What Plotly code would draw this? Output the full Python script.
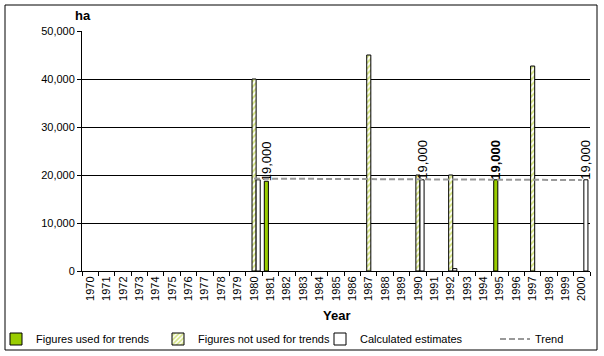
import plotly.graph_objects as go

years = [str(y) for y in range(1970, 2001)]

# Figures used for trends (green)
used_years = ["1981", "1995"]
used_values = [18700, 19000]
used_labels = ["19,000", "<b>19,000</b>"]

# Figures not used for trends (hatched)
notused_years = ["1980", "1987", "1990", "1992", "1997"]
notused_values = [40000, 45000, 20000, 20000, 42700]

# Calculated estimates (white)
calc_years = ["1980", "1990", "1992", "2000"]
calc_values = [19000, 19000, 500, 19000]
calc_labels = ["", "19,000", "", "19,000"]

# Trend (dashed)
trend_years = ["1980", "2000"]
trend_values = [19250, 18950]

FONT = "Liberation Sans, Arial, sans-serif"
GREEN = "#99CC00"

fig = go.Figure()
fig.add_trace(go.Bar(
    x=used_years, y=used_values, name="Figures used for trends",
    marker=dict(color=GREEN, line=dict(color="black", width=1)),
    text=used_labels, textposition="outside", textangle=-90,
    textfont=dict(family=FONT, size=13, color="black"),
    constraintext="none", cliponaxis=False,
))
fig.add_trace(go.Bar(
    x=notused_years, y=notused_values, name="Figures not used for trends",
    marker=dict(color="white", line=dict(color="black", width=1),
                pattern=dict(shape="/", fgcolor="#A8C800", bgcolor="white",
                             size=4, solidity=0.5)),
))
fig.add_trace(go.Bar(
    x=calc_years, y=calc_values, name="Calculated estimates",
    marker=dict(color="white", line=dict(color="black", width=1)),
    text=calc_labels, textposition="outside", textangle=-90,
    textfont=dict(family=FONT, size=13, color="black"),
    constraintext="none", cliponaxis=False,
))
fig.add_trace(go.Scatter(
    x=trend_years, y=trend_values, name="Trend", mode="lines",
    line=dict(color="#999999", width=2, dash="6px,3px"),
    legend="legend2",
))

def px_x(p):
    return (p - 82) / 508

def px_y(p):
    return (271 - p) / 240

fig.update_layout(
    width=604, height=356,
    margin=dict(l=82, r=14, t=31, b=85, autoexpand=False),
    paper_bgcolor="white", plot_bgcolor="white",
    font=dict(family=FONT, size=11, color="black"),
    barmode="group", bargap=0.25, bargroupgap=0,
    showlegend=True,
    legend=dict(orientation="h", x=px_x(-4), xanchor="left", y=px_y(339), yanchor="middle",
                font=dict(family=FONT, size=11), bgcolor="rgba(0,0,0,0)",
                traceorder="normal", entrywidth=117, entrywidthmode="pixels"),
    legend2=dict(orientation="h", x=px_x(495), xanchor="left", y=px_y(339), yanchor="middle",
                 font=dict(family=FONT, size=11), bgcolor="rgba(0,0,0,0)"),
    xaxis=dict(type="category", categoryorder="array", categoryarray=years,
               tickangle=-90, ticks="outside", ticklen=4, tickcolor="black",
               tickson="boundaries", showline=True, linecolor="black", linewidth=1,
               showgrid=False, tickfont=dict(family=FONT, size=11),
               range=[-0.5, 30.5]),
    yaxis=dict(range=[0, 50000], dtick=10000, tickformat=",d",
               ticks="outside", ticklen=4, tickcolor="black",
               showline=True, linecolor="black", linewidth=1,
               showgrid=True, gridcolor="black", gridwidth=1,
               zeroline=False, tickfont=dict(family=FONT, size=11)),
    annotations=[
        dict(text="<b>ha</b>", xref="paper", yref="paper", x=px_x(83),
             y=px_y(15), showarrow=False, xanchor="center", yanchor="middle",
             font=dict(family=FONT, size=13)),
        dict(text="<b>Year</b>", xref="paper", yref="paper", x=px_x(336),
             y=px_y(315), showarrow=False, xanchor="center", yanchor="middle",
             font=dict(family=FONT, size=13)),
    ],
    shapes=[
        dict(type="rect", xref="paper", yref="paper",
             x0=px_x(5), x1=px_x(597), y0=px_y(350), y1=px_y(5),
             line=dict(color="black", width=1), fillcolor="rgba(0,0,0,0)"),
    ],
)

fig.write_html("out.html", config={"displayModeBar": False},
               post_script="document.body.style.margin='0';document.body.style.padding='0';")
